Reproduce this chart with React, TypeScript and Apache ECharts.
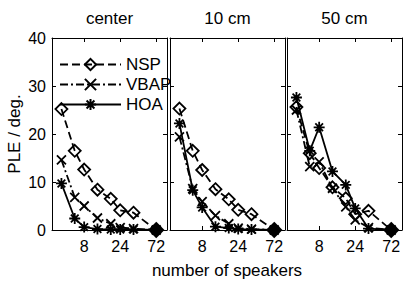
import React, { useEffect, useRef } from 'react';
import * as echarts from 'echarts';

// number of loudspeakers (x values, log axis)
const speakers = [4, 6, 8, 12, 18, 24, 36, 72];
const panelTitles = ['center', '10 cm', '50 cm'];
const seriesNames = ['NSP', 'VBAP', 'HOA'];
const xTickValues = [8, 24, 72];

// PLE / deg. values
const nspCenter = [25.2, 16.5, 12.6, 8.4, 6.5, 4.1, 3.6, 0];
const vbapCenter = [14.6, 6.8, 5.0, 2.5, 1.3, 0.5, 0.3, 0];
const hoaCenter = [9.7, 2.4, 0.6, 0.2, 0.1, 0.1, 0.1, 0];

const nsp10 = [25.3, 16.5, 12.5, 8.5, 6.4, 4.2, 3.3, 0];
const vbap10 = [19.4, 8.6, 5.9, 3.0, 1.3, 0.4, 0.2, 0];
const hoa10 = [22.2, 8.3, 4.7, 0.7, 0.4, 0.2, 0.1, 0];

const nsp50 = [25.6, 16.0, 12.9, 8.9, 6.6, 3.3, 4.0, 0];
const vbap50 = [25.0, 13.2, 14.2, 8.7, 4.8, 2.1, 0.5, 0];
const hoa50 = [27.6, 16.5, 21.4, 12.2, 9.4, 4.5, 0.3, 0];

const panelData = [
  [nspCenter, vbapCenter, hoaCenter],
  [nsp10, vbap10, hoa10],
  [nsp50, vbap50, hoa50],
];

const FONT = '"Liberation Sans", Arial, Helvetica, sans-serif';
const FS = 17;
const TICK_FS = 16;

const gridPos = [
  { left: 52, width: 115 },
  { left: 170, width: 115 },
  { left: 287, width: 115 },
];
const TOP = 38;
const HEIGHT = 192;

const X_PATH = 'path://M0,0L10,10M10,0L0,10';
const STAR_PATH = 'path://M5,0L5,10M0,5L10,5M1.5,1.5L8.5,8.5M8.5,1.5L1.5,8.5';

const styles: Record<string, any> = {
  NSP: {
    symbol: 'diamond',
    symbolSize: 12,
    lineType: [8, 4],
    z: 3,
  },
  VBAP: {
    symbol: X_PATH,
    symbolSize: 9,
    lineType: [8, 3, 2, 3],
    z: 4,
  },
  HOA: {
    symbol: STAR_PATH,
    symbolSize: 11,
    lineType: 'solid',
    z: 5,
  },
};

export default function App() {
  const ref = useRef<HTMLDivElement>(null);

  useEffect(() => {
    document.body.style.margin = '0';
    if (!ref.current) return;
    const chart = echarts.init(ref.current, null, { renderer: 'svg' });

    const grid = gridPos.map((g) => ({
      left: g.left,
      width: g.width,
      top: TOP,
      height: HEIGHT,
      containLabel: false,
    }));

    const xAxis: any[] = [];
    const yAxis: any[] = [];
    gridPos.forEach((_, p) => {
      const baseX = {
        type: 'log',
        logBase: 10,
        min: 3,
        max: 100,
        gridIndex: p,
        splitLine: { show: false },
        minorTick: { show: false },
        axisLine: { show: true, onZero: false, lineStyle: { color: '#000', width: 1 } },
        axisTick: {
          show: true,
          inside: true,
          length: 4,
          customValues: xTickValues,
          lineStyle: { color: '#000', width: 1 },
        },
      };
      xAxis.push({
        ...baseX,
        position: 'bottom',
        axisLabel: {
          show: true,
          customValues: xTickValues,
          color: '#000',
          fontSize: TICK_FS,
          fontFamily: FONT,
          margin: 8,
          formatter: (v: number) => String(Math.round(v)),
        },
      });
      xAxis.push({
        ...baseX,
        position: 'top',
        axisLabel: { show: false },
      });
      const baseY = {
        type: 'value',
        min: 0,
        max: 40,
        interval: 10,
        gridIndex: p,
        splitLine: { show: false },
        axisLine: { show: true, onZero: false, lineStyle: { color: '#000', width: 1 } },
        axisTick: { show: true, inside: true, length: 4, lineStyle: { color: '#000', width: 1 } },
      };
      yAxis.push({
        ...baseY,
        position: 'left',
        axisLabel: {
          show: p === 0,
          color: '#000',
          fontSize: TICK_FS,
          fontFamily: FONT,
          margin: 6,
        },
      });
      yAxis.push({
        ...baseY,
        position: 'right',
        axisLabel: { show: false },
      });
    });

    const series: any[] = [];
    panelData.forEach((vals, p) => {
      seriesNames.forEach((name, s) => {
        const st = styles[name];
        const arr = vals[s];
        series.push({
          type: 'line',
          name,
          xAxisIndex: p * 2,
          yAxisIndex: p * 2,
          symbol: st.symbol,
          symbolSize: st.symbolSize,
          showAllSymbol: true,
          z: st.z,
          clip: false,
          lineStyle: { color: '#000', width: 1.8, type: st.lineType },
          itemStyle: {
            color: 'rgba(255,255,255,0)',
            borderColor: '#000',
            borderWidth: 1.8,
          },
          emphasis: { disabled: true },
          data: arr.map((v, i) => {
            if (name === 'NSP' && speakers[i] === 72) {
              return {
                value: [speakers[i], v],
                symbolSize: 14,
                itemStyle: { color: '#000', borderColor: '#000' },
              };
            }
            return [speakers[i], v];
          }),
        });
      });
    });

    const graphic: any[] = panelTitles.map((t, p) => ({
      type: 'text',
      x: gridPos[p].left + gridPos[p].width / 2,
      y: 18,
      style: {
        text: t,
        font: `${FS}px ${FONT}`,
        fill: '#000',
        textAlign: 'center',
        textVerticalAlign: 'middle',
      },
    }));
    graphic.push({
      type: 'text',
      x: 227,
      y: 270,
      style: {
        text: 'number of speakers',
        font: `${FS}px ${FONT}`,
        fill: '#000',
        textAlign: 'center',
        textVerticalAlign: 'middle',
      },
    });
    graphic.push({
      type: 'text',
      x: 14,
      y: 134,
      rotation: Math.PI / 2,
      style: {
        text: 'PLE / deg.',
        font: `${FS}px ${FONT}`,
        fill: '#000',
        textAlign: 'center',
        textVerticalAlign: 'middle',
      },
    });

    chart.setOption({
      animation: false,
      backgroundColor: '#fff',
      grid,
      xAxis,
      yAxis,
      series,
      graphic,
      legend: {
        data: seriesNames,
        orient: 'vertical',
        left: 54,
        top: 51,
        itemWidth: 61,
        itemHeight: 14,
        itemGap: 3,
        selectedMode: false,
        textStyle: { fontSize: FS, fontFamily: FONT, color: '#000' },
      },
    });

    return () => chart.dispose();
  }, []);

  return <div ref={ref} style={{ width: 409, height: 282 }} />;
}
